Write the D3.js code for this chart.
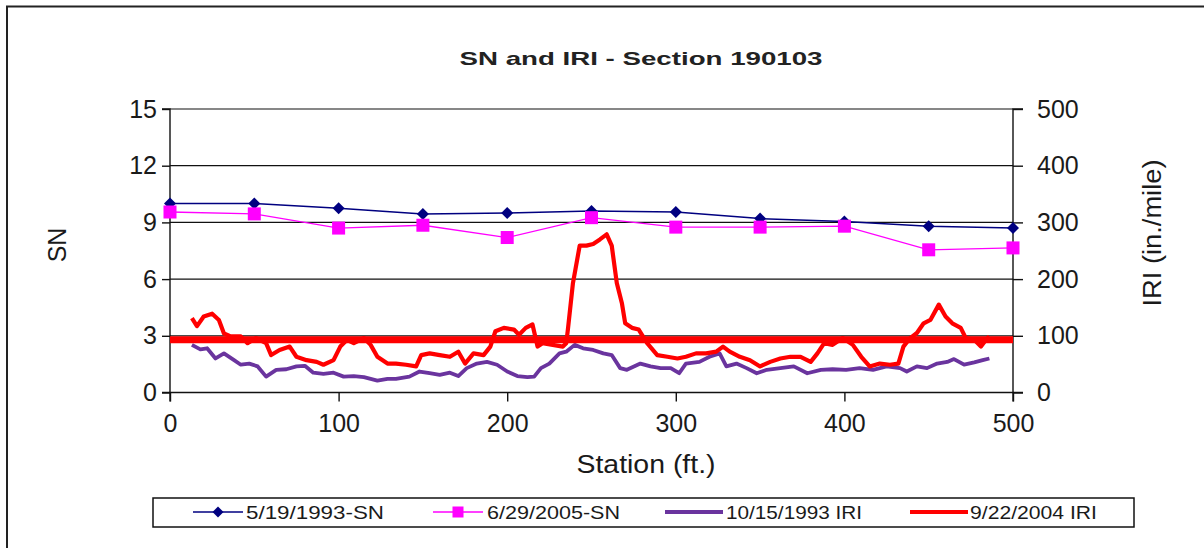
<!DOCTYPE html>
<html><head><meta charset="utf-8">
<script src="https://cdn.jsdelivr.net/npm/d3@7"></script>
<style>html,body{margin:0;padding:0;background:#fff;}svg{display:block;font-family:"Liberation Sans",Arial,sans-serif;}</style>
</head><body>
<script>
// ---- data ----
const snStations = [0,50,100,150,200,250,300,350,400,450,500];
const sn1993 = [10.0,10.0,9.75,9.45,9.5,9.6,9.55,9.2,9.05,8.8,8.7];
const sn2005 = [9.55,9.45,8.7,8.85,8.2,9.25,8.75,8.75,8.8,7.55,7.65];

const iri1993Station = [13,18,22,27,32,38,42,47,52,57,63,69,75,80,85,91,97,103,109,115,123,129,134,142,148,154,160,166,171,176,182,188,194,200,206,212,216,220,225,231,235,240,245,251,257,262,267,271,279,285,291,297,302,306,314,320,326,330,336,342,348,354,362,370,378,386,393,401,409,417,425,433,437,443,449,455,461,465,471,477,482,486];
const iri1993Value = [84,76,78,60,69,57,49,51,46,28,40,41,46,47,35,33,35,28,29,27,21,24,24,28,37,34,31,35,29,43,51,54,49,37,29,27,28,43,51,69,72,84,78,75,69,66,43,40,51,46,43,43,34,51,54,63,69,46,51,43,34,40,43,46,34,40,41,40,43,40,46,43,37,46,43,51,54,59,49,53,57,60];

const iri2004Station = [13,16,20,25,29,32,36,42,46,51,57,60,65,71,75,81,87,91,97,101,105,109,115,119,123,129,134,140,146,149,154,160,166,171,175,180,186,190,193,198,204,207,211,215,218,221,227,233,235,236,239,243,247,251,255,259,262,265,268,270,274,278,283,289,295,301,306,312,318,324,328,332,338,344,350,356,362,368,374,380,384,388,393,399,405,410,415,421,427,432,435,439,443,447,451,456,460,464,469,472,477,481,484,486];
const iri2004Value = [131,117,134,139,128,104,99,99,87,96,87,66,75,81,63,57,54,49,57,81,93,87,96,84,63,51,51,49,46,66,69,66,63,72,51,69,66,81,108,114,111,102,114,120,81,87,84,81,87,111,193,259,259,262,270,279,259,193,158,122,114,111,87,66,63,60,63,69,69,72,81,72,63,57,46,54,60,63,63,54,69,87,84,96,84,63,46,51,49,51,81,96,105,122,128,155,134,122,114,96,93,81,93,99];

const thresholdStation = [0,500];
const thresholdValue = [93,93];

const snTicks = [0,3,6,9,12,15];
const iriTicks = [0,100,200,300,400,500];
const xTicks = [0,100,200,300,400,500];

const legendLabels = ["5/19/1993-SN","6/29/2005-SN","10/15/1993 IRI","9/22/2004 IRI"];

// ---- drawing ----
const W = 1204, H = 548;
const TXT = "#1a1a1a";
const svg = d3.select("body").append("svg").attr("width", W).attr("height", H);
svg.append("rect").attr("width", W).attr("height", H).attr("fill", "#fff");
svg.append("rect").attr("x", 7).attr("y", 6.5).attr("width", 1400).attr("height", 700)
  .attr("fill", "none").attr("stroke", "#222").attr("stroke-width", 2);

const x = d3.scaleLinear().domain([0, 500]).range([170, 1013]);
const yL = d3.scaleLinear().domain([0, 15]).range([392.5, 109]);
const yR = d3.scaleLinear().domain([0, 500]).range([392.5, 109]);

// gridlines
svg.append("g").selectAll("line").data(snTicks.filter(d => d > 0)).join("line")
  .attr("x1", x(0)).attr("x2", x(500)).attr("y1", d => yL(d)).attr("y2", d => yL(d))
  .attr("stroke", "#111").attr("stroke-width", 1.2);

// axes
const axL = svg.append("g").attr("transform", `translate(${x(0)},0)`)
  .call(d3.axisLeft(yL).tickValues(snTicks).tickSize(8).tickPadding(5));
const axR = svg.append("g").attr("transform", `translate(${x(500)},0)`)
  .call(d3.axisRight(yR).tickValues(iriTicks).tickSize(10).tickPadding(14));
const axB = svg.append("g").attr("transform", `translate(0,${yL(0)})`)
  .call(d3.axisBottom(x).tickValues(xTicks).tickSize(9).tickPadding(13));
[axL, axR, axB].forEach(a => {
  a.select(".domain").attr("stroke", "#111").attr("stroke-width", 1.4);
  a.selectAll(".tick line").attr("stroke", "#111").attr("stroke-width", 1.4);
  a.selectAll(".tick text").attr("font-size", 25).attr("fill", TXT)
    .attr("font-family", "Liberation Sans, Arial, sans-serif");
});
axL.select(".domain").attr("d", `M-8,${yL(15)}H0V${yL(0)}H-8`);
axR.select(".domain").attr("d", `M10,${yR(500)}H0V${yR(0)}H10`);
axB.select(".domain").attr("d", `M${x(0)},9V0H${x(500)}V9`);

// series
const lineSN = d3.line().x((d, i) => x(snStations[i])).y(d => yL(d));
svg.append("path").attr("d", lineSN(sn1993)).attr("fill", "none").attr("stroke", "#000080").attr("stroke-width", 1.5);
svg.append("path").attr("d", lineSN(sn2005)).attr("fill", "none").attr("stroke", "#ff00ff").attr("stroke-width", 1.3);

const lineIRI = (st) => d3.line().x((d, i) => x(st[i])).y(d => yR(d));
svg.append("path").attr("d", lineIRI(iri1993Station)(iri1993Value)).attr("fill", "none")
  .attr("stroke", "#6a349e").attr("stroke-width", 3.8).attr("stroke-linejoin", "round");
svg.append("path").attr("d", lineIRI(iri2004Station)(iri2004Value)).attr("fill", "none")
  .attr("stroke", "#ff0000").attr("stroke-width", 4.2).attr("stroke-linejoin", "round");

// markers
const diamondPath = r => `M0,${-r}L${r},0L0,${r}L${-r},0Z`;
svg.append("g").selectAll("path").data(sn1993).join("path")
  .attr("d", diamondPath(6)).attr("transform", (d, i) => `translate(${x(snStations[i])},${yL(d)})`)
  .attr("fill", "#000080");
svg.append("g").selectAll("rect").data(sn2005).join("rect")
  .attr("x", (d, i) => x(snStations[i]) - 6.5).attr("y", d => yL(d) - 6.5)
  .attr("width", 13).attr("height", 13).attr("fill", "#ff00ff");

// threshold
svg.append("path").attr("d", lineIRI(thresholdStation)(thresholdValue))
  .attr("fill", "none").attr("stroke", "#ff0000").attr("stroke-width", 7);

// titles
svg.append("text").attr("x", 641).attr("y", 64.5).attr("text-anchor", "middle")
  .attr("font-size", 18.5).attr("font-weight", "bold").attr("fill", "#222")
  .attr("textLength", 363).attr("lengthAdjust", "spacingAndGlyphs")
  .text("SN and IRI  - Section 190103");
svg.append("text").attr("x", 646).attr("y", 473).attr("text-anchor", "middle")
  .attr("font-size", 25).attr("fill", TXT)
  .attr("textLength", 139).attr("lengthAdjust", "spacingAndGlyphs")
  .text("Station (ft.)");
svg.append("text").attr("transform", "translate(66,245) rotate(-90)").attr("text-anchor", "middle")
  .attr("font-size", 25).attr("fill", TXT).text("SN");
svg.append("text").attr("transform", "translate(1161,233) rotate(-90)").attr("text-anchor", "middle")
  .attr("font-size", 25).attr("fill", TXT)
  .attr("textLength", 147).attr("lengthAdjust", "spacingAndGlyphs")
  .text("IRI (in./mile)");

// legend
const lg = svg.append("g");
lg.append("rect").attr("x", 153).attr("y", 498).attr("width", 981).attr("height", 29)
  .attr("fill", "#fff").attr("stroke", "#111").attr("stroke-width", 1.5);
const legendItems = [
  {x1: 193, x2: 243, tx: 246, tw: 138, color: "#000080", w: 1.5, mark: "diamond"},
  {x1: 433, x2: 483, tx: 487, tw: 133, color: "#ff00ff", w: 1.3, mark: "square"},
  {x1: 665, x2: 723, tx: 726, tw: 136, color: "#6a349e", w: 4, mark: null},
  {x1: 910, x2: 968, tx: 970, tw: 127, color: "#ff0000", w: 4, mark: null}
];
const ly = 512;
legendItems.forEach((it, i) => {
  lg.append("line").attr("x1", it.x1).attr("x2", it.x2).attr("y1", ly).attr("y2", ly)
    .attr("stroke", it.color).attr("stroke-width", it.w);
  const cx = (it.x1 + it.x2) / 2;
  if (it.mark === "diamond") {
    lg.append("path").attr("d", diamondPath(5.5)).attr("transform", `translate(${cx},${ly})`).attr("fill", it.color);
  } else if (it.mark === "square") {
    lg.append("rect").attr("x", cx - 5.5).attr("y", ly - 5.5).attr("width", 11).attr("height", 11).attr("fill", it.color);
  }
  lg.append("text").attr("x", it.tx).attr("y", 518.5).attr("font-size", 18).attr("fill", TXT)
    .attr("textLength", it.tw).attr("lengthAdjust", "spacingAndGlyphs").text(legendLabels[i]);
});
</script>
</body></html>
